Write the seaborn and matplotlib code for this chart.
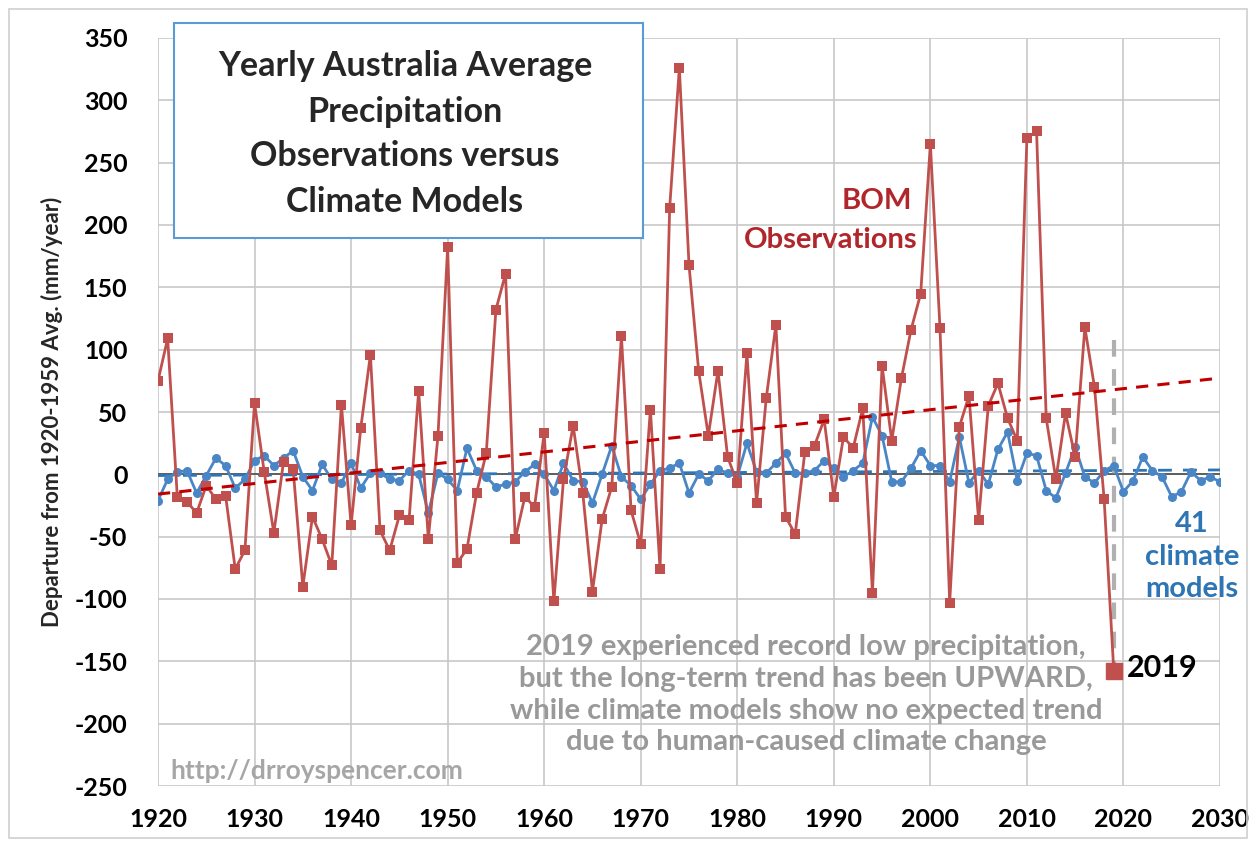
import numpy as np
import pandas as pd
import matplotlib
matplotlib.use("Agg")
import matplotlib.pyplot as plt
from matplotlib.patches import Rectangle
import seaborn as sns

# ---- data ----
obs_years = list(range(1920, 2020))
bom_obs = [75, 109, -18, -22, -31, -9, -20, -17, -76, -61,
           57, 2, -47, 10, 4, -90, -34, -52, -73, 56,
           -41, 37, 96, -45, -61, -33, -37, 67, -52, 31,
           182, -71, -60, -15, 17, 132, 161, -52, -18, -26,
           33, -102, -4, 39, -15, -94, -36, -10, 111, -29,
           -56, 52, -76, 214, 326, 168, 83, 31, 83, 14,
           -7, 97, -23, 61, 120, -34, -48, 18, 23, 44,
           -18, 30, 21, 53, -95, 87, 27, 77, 116, 145,
           265, 117, -103, 38, 63, -37, 55, 73, 45, 27,
           270, 275, 45, -4, 49, 14, 118, 70, -20, -158]

model_years = list(range(1920, 2031))
model_avg = [-21, -4, 2, 3, -15, -1, 13, 7, -11, -4,
             11, 15, 7, 13, 19, -2, -13, 8, -4, -7,
             9, -11, 1, 1, -4, -5, 3, 0, -31, 1,
             -4, -13, 21, 3, -2, -10, -8, -6, 2, 8,
             0, -13, 9, -5, -6, -23, 0, 23, -2, -9,
             -20, -8, 3, 5, 9, -15, 0, -5, 4, 1,
             -2, 25, 2, 1, 9, 17, 1, 1, 3, 11,
             5, -2, 3, 9, 46, 31, -6, -6, 5, 19,
             7, 7, -6, 30, -7, 3, -8, 20, 34, -5,
             17, 15, -13, -19, 1, 22, -2, -7, 3, 7,
             -14, -5, 14, 3, -2, -18, -14, 2, -5, -2, -6]

trend_years = [1920, 2030]

RED = "#c0504d"
RED_TREND = "#c00000"
RED_TEXT = "#b0262a"
BLUE = "#4a86c5"
BLUE_TREND = "#2e75b6"
GRID = "#c8c8c8"

sns.set_theme(style="whitegrid")
plt.rcParams["font.family"] = ["Lato", "DejaVu Sans"]
plt.rcParams["axes.unicode_minus"] = False

df_obs = pd.DataFrame({"year": obs_years, "value": bom_obs})
df_mod = pd.DataFrame({"year": model_years, "value": model_avg})

# linear trends
p_obs = np.polyfit(obs_years, bom_obs, 1)
p_mod = np.polyfit(model_years, model_avg, 1)
df_tr_obs = pd.DataFrame({"year": trend_years, "value": np.polyval(p_obs, trend_years)})
df_tr_mod = pd.DataFrame({"year": trend_years, "value": np.polyval(p_mod, trend_years)})

fig = plt.figure(figsize=(12.56, 8.47), dpi=100)
W, H = 1256, 847
ax = fig.add_axes([158 / W, 1 - 786 / H, (1220 - 158) / W, (786 - 38) / H])

ax.axhline(0, color="#555555", lw=1.3, zorder=1)

sns.lineplot(data=df_mod, x="year", y="value", ax=ax, color=BLUE, lw=2,
             marker="o", markersize=6.5, markeredgewidth=0, zorder=3)
sns.lineplot(data=df_obs, x="year", y="value", ax=ax, color=RED, lw=2,
             marker="s", markersize=6.5, markeredgewidth=0, zorder=4)
sns.lineplot(data=df_tr_mod, x="year", y="value", ax=ax, color=BLUE_TREND,
             lw=2, linestyle=(0, (5, 4)), zorder=2)
sns.lineplot(data=df_tr_obs, x="year", y="value", ax=ax, color=RED_TREND,
             lw=2.2, linestyle=(0, (4, 3)), zorder=5)

# 2019 highlight
ax.plot([obs_years[-1]], [bom_obs[-1]], marker="s", markersize=11,
        color=RED, zorder=6)
ax.plot([obs_years[-1], obs_years[-1]], [108, bom_obs[-1]], color="#b0b0b0",
        lw=3, linestyle=(0, (4, 3)), zorder=2)

ax.set_xlim(1920, 2030)
ax.set_ylim(-250, 350)
ax.set_xticks(range(1920, 2031, 10))
ax.set_yticks(range(-250, 351, 50))
ax.grid(True, color=GRID, lw=1.2)
for s in ax.spines.values():
    s.set_visible(False)
ax.tick_params(axis="both", labelsize=18, length=0, colors="black")
ax.tick_params(axis="x", pad=16)
ax.tick_params(axis="y", pad=22)
for lab in ax.get_xticklabels() + ax.get_yticklabels():
    lab.set_fontweight("bold")
ax.set_xlabel("")
ax.set_ylabel("Departure from 1920-1959 Avg. (mm/year)", fontsize=16,
              fontweight="bold", labelpad=8)

# text annotations
ax.text(1994.5, 219, "BOM", color=RED_TEXT, fontsize=21, fontweight="bold",
        ha="center", va="center")
ax.text(1998.7, 188, "Observations", color=RED_TEXT, fontsize=21,
        fontweight="bold", ha="right", va="center")
ax.text(2027.1, -66, "41\nclimate\nmodels", color=BLUE_TREND, fontsize=21,
        fontweight="bold", ha="center", va="center", linespacing=1.3)
ax.text(2020.4, -155, "2019", color="black", fontsize=22, fontweight="bold",
        ha="left", va="center")
ax.text(1987.1, -177,
        "2019 experienced record low precipitation,\n"
        "but the long-term trend has been UPWARD,\n"
        "while climate models show no expected trend\n"
        "due to human-caused climate change",
        color="#999999", fontsize=21, fontweight="bold", ha="center",
        va="center", linespacing=1.27)
ax.text(1921.3, -238, "http://drroyspencer.com", color="#a6a6a6",
        fontsize=19, fontweight="bold", ha="left", va="center")

# title box
fig.patches.append(Rectangle((174 / W, 1 - 238 / H), (643 - 174) / W,
                             (238 - 23) / H, transform=fig.transFigure,
                             facecolor="white", edgecolor="#5b9bd5", lw=1.5,
                             zorder=10))
fig.text(405 / W, 1 - 134 / H,
         "Yearly Australia Average\nPrecipitation\nObservations versus\nClimate Models",
         fontsize=24.5, fontweight="bold", ha="center", va="center",
         linespacing=1.5, zorder=11)

# outer chart border
fig.patches.append(Rectangle((9 / W, 9 / H), (W - 18) / W, (H - 18) / H,
                             transform=fig.transFigure, facecolor="none",
                             edgecolor="#d0d0d0", lw=1.2))

fig.savefig("out.png", dpi=100)
